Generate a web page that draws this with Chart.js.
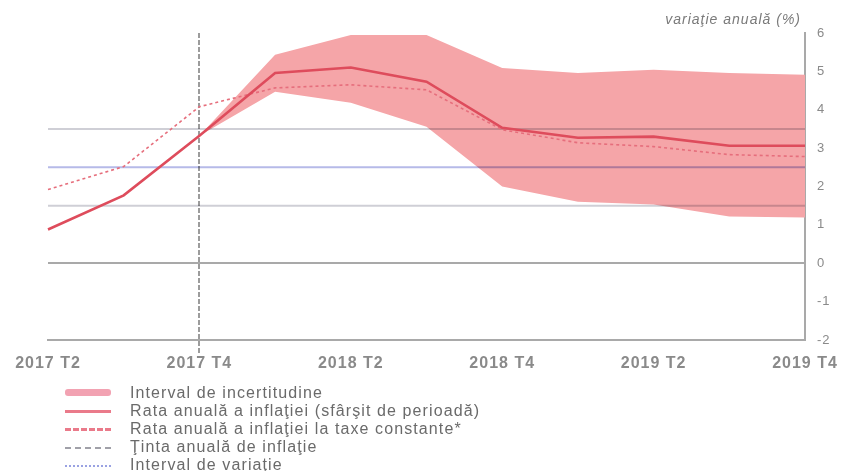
<!DOCTYPE html>
<html>
<head>
<meta charset="utf-8">
<script src="https://cdn.jsdelivr.net/npm/chart.js@4/dist/chart.umd.min.js"></script>
<style>
  html, body { margin: 0; padding: 0; background: #fff; }
  #wrap { position: relative; width: 843px; height: 471px; overflow: hidden; }
  #chart { position: absolute; left: 0; top: 0; }
  #legend { position: absolute; left: 0; top: 384px; font-family: "Liberation Sans", Arial, sans-serif;
            font-size: 16px; letter-spacing: 1.1px; color: #6a6a6a; }
  .row { position: relative; height: 18px; width: 700px; }
  .sw { position: absolute; left: 65px; width: 46px; }
  .tx { position: absolute; left: 130px; top: 0; line-height: 18px; white-space: nowrap; }
</style>
</head>
<body>
<div id="wrap">
  <canvas id="chart" width="843" height="471"></canvas>
  <div id="legend"></div>
</div>
<script>
// Quarters on the horizontal axis
const quarters = ['2017 T2', '2017 T3', '2017 T4', '2018 T1', '2018 T2', '2018 T3',
                  '2018 T4', '2019 T1', '2019 T2', '2019 T3', '2019 T4'];
const tickLabels = ['2017 T2', '', '2017 T4', '', '2018 T2', '', '2018 T4', '', '2019 T2', '', '2019 T4'];
const yTicks = [-2, -1, 0, 1, 2, 3, 4, 5, 6];

// Annual inflation rate (end of period), %
const inflation = [0.88, 1.77, 3.32, 4.96, 5.10, 4.73, 3.53, 3.27, 3.30, 3.06, 3.06];
// Annual inflation rate at constant taxes, %
const inflationConstTax = [1.92, 2.52, 4.08, 4.57, 4.65, 4.52, 3.48, 3.14, 3.04, 2.83, 2.78];
// Uncertainty interval bounds
const bandUpper = [null, null, 3.32, 5.43, 5.95, 5.95, 5.09, 4.96, 5.04, 4.96, 4.91];
const bandLower = [null, null, 3.32, 4.47, 4.18, 3.56, 2.00, 1.60, 1.53, 1.22, 1.19];
// Inflation target and its variation interval
const target = [2.5, 2.5, 2.5, 2.5, 2.5, 2.5, 2.5, 2.5, 2.5, 2.5, 2.5];
const rangeUpper = [3.5, 3.5, 3.5, 3.5, 3.5, 3.5, 3.5, 3.5, 3.5, 3.5, 3.5];
const rangeLower = [1.5, 1.5, 1.5, 1.5, 1.5, 1.5, 1.5, 1.5, 1.5, 1.5, 1.5];

const legendItems = [
  { text: 'Interval de incertitudine', kind: 'band' },
  { text: 'Rata anuală a inflaţiei (sfârşit de perioadă)', kind: 'solid' },
  { text: 'Rata anuală a inflaţiei la taxe constante*', kind: 'dashed' },
  { text: 'Ţinta anuală de inflaţie', kind: 'target' },
  { text: 'Interval de variaţie', kind: 'range' }
];
const unitTitle = 'variaţie anuală (%)';

const BAND = '#f5a5a8';
const RED = '#de4c5c';
const RED_DASH = '#e66e7c';
const GREY = '#a9a9a9';

// Slightly spaced lettering for all canvas text
const spacingPlugin = {
  id: 'letterSpacing',
  beforeUpdate(chart) { chart.ctx.letterSpacing = '1px'; },
  beforeDraw(chart) { chart.ctx.letterSpacing = '1px'; }
};

// Reference lines are multiplied onto the band so they darken inside it
const multiplyPlugin = {
  id: 'multiplyLines',
  beforeDatasetDraw(chart, args) {
    if (args.meta._dataset.multiply) {
      chart.ctx.save();
      chart.ctx.globalCompositeOperation = 'multiply';
    }
  },
  afterDatasetDraw(chart, args) {
    if (args.meta._dataset.multiply) chart.ctx.restore();
  }
};

// Unit caption above the right axis
const unitPlugin = {
  id: 'unitCaption',
  afterDraw(chart) {
    const ctx = chart.ctx;
    const y = chart.scales.y;
    ctx.save();
    ctx.font = 'italic 14px "Liberation Sans", Arial, sans-serif';
    ctx.fillStyle = '#7a7a7a';
    ctx.textAlign = 'right';
    ctx.textBaseline = 'middle';
    ctx.fillText(unitTitle, y.left - 4, chart.chartArea.top - 13);
    ctx.restore();
  }
};

const refLine = (data, color, width) => ({
  data, borderColor: color, borderWidth: width, pointRadius: 0, fill: false,
  tension: 0, multiply: true
});

// Datasets are painted last-to-first, so the band sits at the end of the list
new Chart(document.getElementById('chart'), {
  type: 'line',
  data: {
    labels: quarters,
    datasets: [
      { data: inflation, borderColor: RED, borderWidth: 2.6, pointRadius: 0, fill: false },
      { data: inflationConstTax, borderColor: RED_DASH, borderWidth: 1.6, borderDash: [3, 3],
        pointRadius: 0, fill: false },
      refLine(rangeUpper, '#cfcfd6', 2),
      refLine(target, '#b6bae8', 2),
      refLine(rangeLower, '#cfcfd6', 2),
      { data: bandUpper, borderWidth: 0, pointRadius: 0, fill: '+1', backgroundColor: BAND },
      { data: bandLower, borderWidth: 0, pointRadius: 0, fill: false, backgroundColor: BAND }
    ]
  },
  options: {
    responsive: false,
    animation: false,
    events: [],
    layout: { padding: { top: 33, left: 48, right: 0, bottom: 0 } },
    plugins: { legend: { display: false }, tooltip: { enabled: false }, title: { display: false } },
    scales: {
      x: {
        type: 'category',
        offset: false,
        afterFit(s) { s.height = 131; },
        border: { display: true, color: GREY, width: 2, dash: [5, 2] },
        grid: {
          drawOnChartArea: true,
          drawTicks: true,
          tickLength: 14,
          color: (c) => c.index === 2 ? '#9c9c9c' : 'rgba(0,0,0,0)',
          lineWidth: 2,
          tickBorderDash: [5, 2]
        },
        ticks: {
          autoSkip: false, maxRotation: 0, padding: 0,
          color: '#8a8a8a',
          font: { family: '"Liberation Sans", Arial, sans-serif', size: 16, weight: 'bold' },
          callback: (v, i) => tickLabels[i]
        }
      },
      y: {
        position: 'right',
        min: yTicks[0], max: yTicks[yTicks.length - 1],
        afterFit(s) { s.width = 38; },
        afterBuildTicks(s) { s.ticks = yTicks.map(v => ({ value: v })); },
        border: { display: true, color: GREY, width: 2 },
        grid: {
          drawOnChartArea: true,
          drawTicks: false,
          color: (c) => c.tick && c.tick.value === 0 ? GREY : 'rgba(0,0,0,0)',
          lineWidth: 2
        },
        ticks: {
          padding: 12,
          color: '#8a8a8a',
          font: { family: '"Liberation Sans", Arial, sans-serif', size: 13 }
        }
      }
    }
  },
  plugins: [spacingPlugin, multiplyPlugin, unitPlugin]
});

// Legend below the plot
const legend = document.getElementById('legend');
legendItems.forEach(item => {
  const row = document.createElement('div');
  row.className = 'row';
  const sw = document.createElement('div');
  sw.className = 'sw';
  if (item.kind === 'band') { sw.style.top = '5px'; sw.style.height = '7px'; sw.style.background = '#f2a2b2'; sw.style.borderRadius = '3px'; }
  if (item.kind === 'solid') { sw.style.top = '8px'; sw.style.borderTop = '3px solid #ea7a8a'; }
  if (item.kind === 'dashed') { sw.style.top = '8px'; sw.style.borderTop = '3px dashed #ea7a8a'; }
  if (item.kind === 'target') { sw.style.top = '9px'; sw.style.borderTop = '2px dashed #a0a0a8'; }
  if (item.kind === 'range') { sw.style.top = '9px'; sw.style.borderTop = '2px dotted #9aa2e2'; }
  const tx = document.createElement('div');
  tx.className = 'tx';
  tx.textContent = item.text;
  row.appendChild(sw);
  row.appendChild(tx);
  legend.appendChild(row);
});
</script>
</body>
</html>
